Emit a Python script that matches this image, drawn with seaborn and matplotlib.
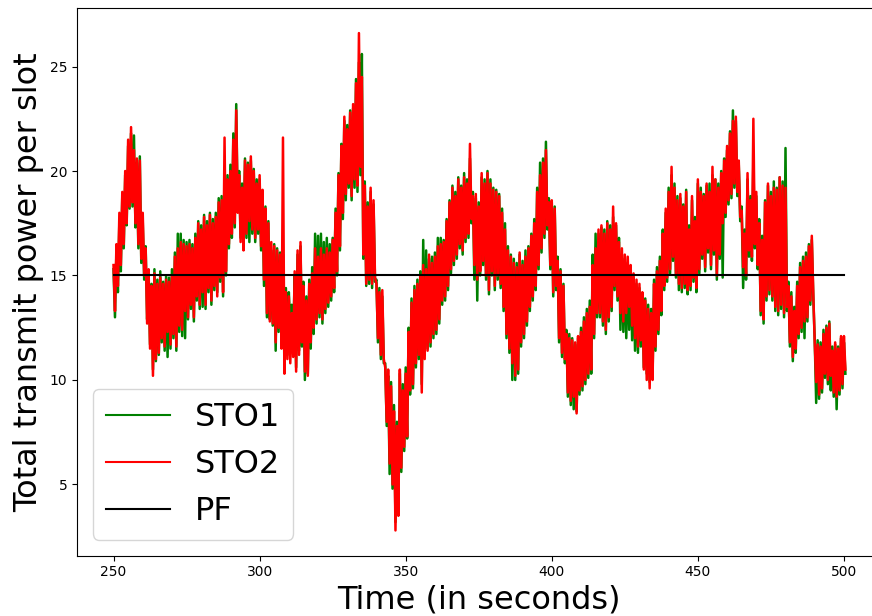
import numpy as np
import matplotlib
matplotlib.use('Agg')
import matplotlib.pyplot as plt
import seaborn as sns

# seconds 250..500, one peak and one trough per second
seconds = list(range(250, 501))

sto1_high = [
    15.3, 16.2, 17.6, 18.8, 19.8, 21.2, 21.8, 21.7, 20.4, 20.7,
    17.6, 16.4, 15.1, 14.6, 15.3, 14.8, 15.2, 14.7, 15.0, 14.9,
    15.3, 16.1, 17.0, 17.0, 16.7, 16.6, 16.7, 16.5, 17.0, 17.6,
    17.4, 17.9, 17.6, 18.0, 17.7, 18.0, 18.7, 18.8, 19.5, 19.8,
    20.3, 21.8, 23.2, 20.0, 19.4, 20.6, 20.4, 20.5, 20.1, 19.6,
    19.6, 19.0, 18.3, 17.6, 16.2, 16.5, 16.3, 16.1, 16.0, 14.4,
    14.2, 13.6, 15.0, 16.0, 16.4, 14.7, 14.0, 14.8, 15.4, 17.0,
    16.9, 17.0, 16.6, 16.8, 16.5, 16.8, 18.2, 19.9, 21.3, 22.4,
    22.2, 22.9, 23.0, 24.4, 25.2, 25.6, 19.5, 18.5, 19.0, 18.4,
    14.8, 14.4, 14.0, 10.8, 10.2, 9.9, 8.8, 8.0, 10.3, 9.8,
    10.6, 12.5, 13.9, 14.5, 14.8, 15.2, 16.7, 16.2, 15.8, 15.9,
    16.1, 16.8, 16.8, 16.7, 17.7, 18.6, 19.3, 19.0, 19.7, 19.3,
    19.9, 19.6, 20.6, 19.0, 18.7, 18.5, 19.7, 19.6, 20.0, 19.6,
    19.2, 19.1, 18.9, 18.2, 17.5, 16.4, 16.0, 15.8, 15.6, 16.0,
    15.7, 16.2, 16.4, 17.0, 17.7, 19.2, 20.4, 20.6, 21.4, 18.7,
    18.5, 18.3, 15.9, 15.3, 14.6, 12.4, 12.2, 12.0, 11.7, 12.0,
    12.5, 13.0, 13.4, 13.8, 16.0, 17.0, 17.0, 17.3, 17.2, 17.6,
    17.4, 17.8, 17.4, 16.8, 16.0, 15.8, 15.6, 15.3, 14.9, 14.6,
    14.4, 14.0, 13.9, 13.6, 13.4, 14.8, 15.4, 15.9, 17.2, 18.0,
    19.2, 19.8, 19.4, 18.8, 18.7, 18.4, 19.1, 17.4, 18.6, 17.8,
    19.4, 19.2, 18.9, 19.3, 19.4, 19.8, 19.6, 19.4, 20.0, 20.6,
    21.0, 21.9, 22.9, 22.4, 20.3, 18.3, 17.2, 19.6, 18.8, 20.5,
    18.8, 17.7, 16.9, 18.6, 19.3, 19.0, 19.5, 19.2, 19.7, 19.5,
    21.1, 14.7, 14.2, 13.5, 14.7, 15.6, 15.9, 16.1, 16.5, 16.7,
    11.9, 11.9, 11.8, 12.4, 12.6, 12.8, 11.6, 11.7, 11.6, 12.0,
    11.8]

sto1_low = [
    13.0, 14.2, 15.2, 16.3, 17.4, 18.2, 18.3, 17.3, 16.3, 15.6,
    14.8, 12.9, 11.7, 10.5, 10.9, 11.2, 11.8, 11.4, 11.1, 11.5,
    12.0, 11.4, 12.3, 12.1, 12.0, 12.9, 13.4, 12.8, 13.8, 13.4,
    13.5, 13.4, 14.2, 13.6, 14.3, 14.2, 14.7, 14.0, 15.0, 16.3,
    16.8, 17.3, 18.2, 16.8, 16.4, 16.8, 16.6, 17.0, 16.6, 17.0,
    16.2, 14.5, 13.0, 12.9, 12.6, 11.4, 12.3, 11.6, 10.5, 11.2,
    12.4, 11.9, 10.6, 11.4, 11.6, 10.0, 10.3, 11.5, 12.2, 12.7,
    13.0, 12.7, 13.2, 13.5, 13.8, 14.2, 15.0, 16.2, 17.7, 18.6,
    19.2, 18.6, 19.2, 19.0, 19.8, 15.8, 14.5, 14.6, 14.4, 14.7,
    11.8, 11.0, 10.8, 7.8, 5.5, 4.8, 3.2, 3.8, 5.6, 6.6,
    7.2, 9.3, 9.6, 10.6, 11.0, 9.8, 11.2, 11.5, 11.6, 12.0,
    12.2, 12.7, 13.6, 13.8, 14.3, 15.1, 15.5, 15.8, 16.3, 16.0,
    16.6, 16.8, 17.5, 14.8, 13.8, 15.0, 15.5, 14.8, 14.1, 15.0,
    14.3, 14.8, 14.4, 13.3, 12.0, 11.3, 10.0, 10.0, 10.3, 11.6,
    12.0, 12.6, 13.3, 13.8, 14.3, 15.3, 16.1, 16.8, 17.2, 15.3,
    14.0, 14.3, 11.8, 11.1, 10.8, 9.2, 8.8, 8.6, 8.5, 9.3,
    9.5, 9.8, 10.1, 10.3, 12.0, 13.0, 13.0, 12.6, 12.2, 12.8,
    13.3, 14.3, 13.8, 12.4, 12.3, 12.0, 12.4, 11.9, 11.4, 11.3,
    11.6, 10.6, 10.3, 9.9, 10.2, 11.4, 12.2, 13.1, 14.3, 14.7,
    15.1, 15.7, 14.9, 14.3, 14.2, 14.4, 14.1, 14.3, 14.7, 14.2,
    15.1, 15.8, 15.2, 16.1, 15.3, 16.0, 14.8, 15.8, 14.9, 17.8,
    18.4, 18.7, 19.2, 18.8, 17.6, 14.4, 14.8, 15.9, 15.7, 16.3,
    15.3, 13.1, 12.7, 13.8, 14.1, 13.8, 13.3, 13.1, 13.4, 13.0,
    13.3, 11.6, 10.9, 11.3, 12.0, 12.3, 12.0, 12.8, 13.6, 14.0,
    8.9, 9.1, 9.4, 10.1, 9.8, 9.5, 9.2, 8.6, 9.3, 9.6,
    10.3]

sto2_high = [
    15.5, 16.5, 18.0, 19.0, 20.0, 21.5, 22.1, 21.0, 20.6, 20.5,
    18.0, 16.3, 15.3, 14.5, 15.1, 14.6, 14.9, 14.6, 14.8, 14.7,
    15.0, 15.9, 16.3, 16.6, 16.5, 16.4, 16.5, 16.3, 16.8, 17.5,
    17.2, 17.8, 17.4, 17.9, 17.5, 17.8, 18.5, 18.6, 21.6, 19.6,
    20.0, 21.5, 22.9, 19.8, 19.2, 20.5, 20.3, 20.7, 20.0, 19.4,
    19.8, 19.1, 18.2, 17.5, 16.6, 16.4, 16.2, 16.0, 21.6, 14.2,
    14.0, 13.2, 15.2, 16.2, 16.6, 14.5, 13.8, 14.6, 15.1, 16.3,
    15.9, 16.3, 16.0, 16.3, 16.1, 16.7, 18.0, 19.8, 21.2, 22.6,
    22.0, 22.8, 23.2, 24.2, 26.6, 24.5, 19.3, 18.3, 19.2, 18.6,
    14.6, 14.2, 14.3, 10.6, 10.5, 9.7, 8.5, 7.8, 10.5, 9.5,
    10.3, 12.3, 13.7, 14.3, 14.6, 15.0, 15.5, 15.3, 16.0, 15.6,
    15.9, 16.4, 16.5, 16.6, 17.6, 18.5, 19.2, 18.8, 19.6, 19.2,
    19.7, 19.4, 21.3, 18.8, 18.9, 18.3, 19.9, 19.4, 19.9, 19.4,
    19.1, 19.0, 18.8, 18.0, 17.2, 16.2, 15.9, 15.6, 15.4, 16.1,
    15.5, 15.9, 16.3, 16.9, 17.5, 19.0, 19.8, 20.4, 21.0, 18.5,
    18.6, 18.2, 15.7, 15.2, 14.5, 12.2, 12.0, 11.9, 11.8, 12.1,
    12.3, 12.8, 13.2, 13.5, 15.5, 16.3, 17.2, 17.4, 17.0, 17.5,
    17.2, 18.3, 17.5, 16.6, 16.3, 16.0, 15.9, 15.5, 15.1, 14.8,
    14.6, 14.2, 13.8, 13.4, 13.2, 14.6, 15.2, 15.7, 17.0, 18.2,
    19.0, 20.2, 19.2, 18.6, 18.9, 18.3, 19.0, 17.2, 18.8, 17.6,
    19.6, 19.0, 18.8, 19.4, 19.0, 20.2, 19.6, 19.2, 19.9, 20.5,
    21.2, 21.8, 22.4, 22.6, 20.5, 18.1, 17.0, 19.9, 18.6, 22.5,
    19.0, 17.5, 16.7, 18.5, 19.4, 18.8, 19.2, 19.1, 19.7, 19.3,
    19.2, 14.5, 14.0, 13.3, 14.5, 15.4, 15.7, 15.9, 16.4, 16.9,
    11.8, 11.7, 11.6, 12.2, 12.5, 12.7, 11.4, 11.8, 11.5, 12.1,
    12.1]

sto2_low = [
    13.3, 14.5, 15.5, 16.5, 17.5, 18.3, 18.5, 17.5, 16.5, 15.8,
    15.0, 12.7, 11.5, 10.2, 11.0, 11.3, 12.0, 11.6, 12.3, 11.7,
    12.2, 11.6, 12.6, 12.4, 13.3, 13.0, 13.6, 13.0, 14.0, 13.6,
    14.2, 13.6, 14.4, 13.8, 14.5, 14.0, 14.9, 14.2, 15.2, 16.5,
    17.0, 17.5, 18.0, 16.6, 16.2, 17.0, 17.6, 17.2, 16.8, 17.2,
    16.4, 14.8, 13.2, 12.8, 12.7, 11.8, 12.5, 11.5, 10.3, 11.0,
    10.8, 11.1, 10.4, 11.2, 11.8, 10.4, 10.2, 11.8, 12.5, 12.9,
    13.2, 12.9, 13.4, 13.7, 14.0, 14.4, 15.2, 16.4, 18.0, 18.9,
    19.4, 18.8, 19.6, 19.3, 20.2, 16.0, 14.6, 14.8, 14.6, 14.9,
    12.0, 11.2, 11.0, 8.0, 6.0, 5.0, 2.8, 3.5, 5.8, 6.8,
    7.3, 9.5, 9.8, 10.8, 11.2, 9.4, 11.0, 11.4, 11.8, 12.2,
    12.4, 12.9, 13.8, 14.0, 14.5, 15.3, 15.7, 16.0, 16.5, 16.2,
    16.8, 17.0, 17.7, 15.5, 14.8, 15.2, 15.7, 15.0, 14.3, 15.2,
    14.5, 15.0, 14.6, 13.5, 12.2, 11.5, 10.8, 10.2, 10.5, 11.8,
    12.2, 12.8, 13.5, 14.0, 14.5, 15.5, 16.3, 17.0, 17.4, 15.5,
    14.2, 14.5, 12.0, 11.3, 11.0, 9.4, 9.0, 9.2, 8.4, 9.5,
    9.7, 10.0, 10.3, 10.5, 12.2, 13.2, 13.2, 12.8, 12.4, 13.0,
    13.5, 14.5, 14.0, 13.2, 12.8, 13.2, 13.5, 12.6, 12.0, 11.6,
    11.9, 10.5, 10.0, 9.6, 10.0, 11.6, 12.4, 13.3, 14.5, 14.9,
    15.3, 15.9, 15.1, 14.6, 14.4, 14.6, 14.3, 14.5, 14.9, 14.4,
    15.3, 16.0, 15.4, 16.3, 15.5, 16.2, 15.0, 16.0, 17.5, 18.0,
    18.6, 18.9, 19.4, 19.0, 17.8, 15.4, 15.0, 16.2, 15.9, 16.5,
    15.5, 13.3, 12.9, 14.0, 14.3, 14.0, 13.5, 13.3, 13.6, 13.2,
    13.5, 11.8, 11.1, 11.5, 12.2, 12.5, 12.8, 13.0, 13.8, 14.2,
    9.9, 9.3, 9.6, 10.3, 10.0, 10.2, 9.4, 9.2, 9.5, 9.8,
    10.5]

pf_time = [250, 500]
pf_value = [15, 15]


def zigzag(high, low):
    # peak at t, trough half a second later
    t = np.column_stack([np.array(seconds), np.array(seconds) + 0.5]).ravel()
    v = np.column_stack([high, low]).ravel()
    return t, v


t1, v1 = zigzag(sto1_high, sto1_low)
t2, v2 = zigzag(sto2_high, sto2_low)

fig = plt.figure(figsize=(8.72, 6.16), dpi=100)
ax = fig.add_axes([0.0883, 0.0982, 0.9214, 0.8888])

sns.lineplot(x=t1, y=v1, color='green', linewidth=1.8, label='STO1', estimator=None, ax=ax)
sns.lineplot(x=t2, y=v2, color='red', linewidth=1.8, label='STO2', estimator=None, ax=ax)
sns.lineplot(x=pf_time, y=pf_value, color='black', linewidth=1.5, label='PF', estimator=None, ax=ax)

ax.set_xlim(237.5, 512.5)
ax.set_ylim(1.6, 27.8)
ax.set_xticks([250, 300, 350, 400, 450, 500])
ax.set_yticks([5, 10, 15, 20, 25])
ax.tick_params(labelsize=10)
ax.set_xlabel('Time (in seconds)', fontsize=23)
ax.set_ylabel('Total transmit power per slot', fontsize=23)
leg = ax.legend(loc='lower left', fontsize=23)
for line in leg.get_lines():
    line.set_linewidth(1.5)

fig.savefig('out.png', dpi=100)
